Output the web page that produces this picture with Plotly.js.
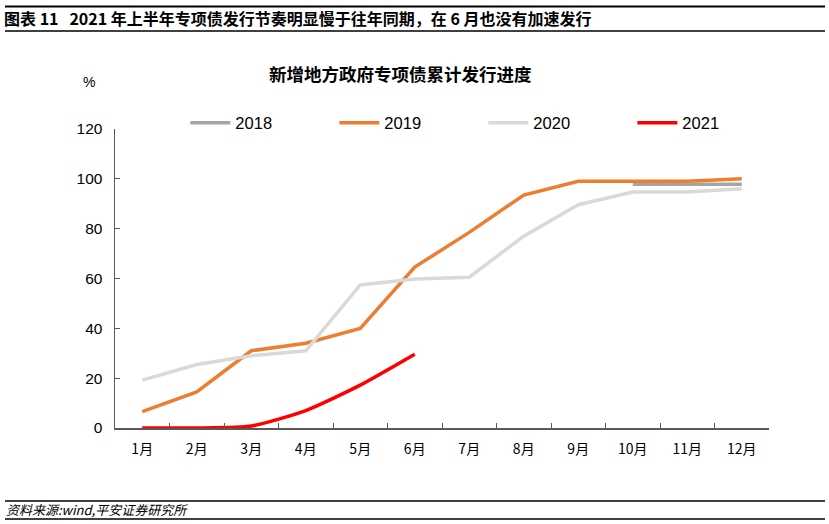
<!DOCTYPE html>
<html>
<head>
<meta charset="utf-8">
<script src="https://cdn.plot.ly/plotly-3.0.1.min.js"></script>
<style>
html,body{margin:0;padding:0;background:#fff;}
#chart{width:829px;height:524px;}
</style>
</head>
<body>
<div id="chart"></div>
<script>
var months = ["1月","2月","3月","4月","5月","6月","7月","8月","9月","10月","11月","12月"];
var s2018 = [null,null,null,null,null,null,null,null,null,97.8,97.8,97.8];
var s2019 = [6.6,14.5,31,34,40,64.6,78.5,93.5,99,99,99,100];
var s2020 = [19.2,25.5,29,31,57.4,59.8,60.5,77,89.6,94.7,94.7,96];
var s2021 = [0,0,0.8,7,17.2,29.6];
var yTicks = [0,20,40,60,80,100,120];

var cjk = '"Noto Sans CJK SC", "Liberation Sans", Arial, sans-serif';
var num = '"Liberation Sans", Arial, sans-serif';

function tr(name, y, color, shape) {
  return {
    type: 'scatter', mode: 'lines', name: name,
    x: months.slice(0, y.length), y: y,
    line: {color: color, width: 3.5, shape: shape || 'linear', smoothing: 0.6},
    connectgaps: false, hoverinfo: 'skip'
  };
}

var data = [
  tr('2018', s2018, '#A5A5A5'),
  tr('2019', s2019, '#ED7D31'),
  tr('2020', s2020, '#D9D9D9'),
  tr('2021', s2021, '#FF0000', 'spline')
];

var layout = {
  width: 829, height: 524,
  margin: {l: 115, r: 60, t: 129, b: 96},
  paper_bgcolor: '#fff', plot_bgcolor: '#fff',
  showlegend: true,
  legend: {
    orientation: 'h', x: 0.1076, y: 1 + (129-123)/299, xanchor: 'left', yanchor: 'middle',
    entrywidth: 94, entrywidthmode: 'pixels',
    font: {family: num, size: 16.5, color: '#000'},
    itemwidth: 40, tracegroupgap: 0
  },
  xaxis: {
    type: 'category', range: [-0.5, 11.5],
    tickson: 'boundaries', ticks: 'inside', ticklen: 5, tickcolor: '#595959',
    showline: true, linecolor: '#595959', linewidth: 1.5,
    showgrid: false, zeroline: false,
    tickfont: {family: cjk, size: 14, color: '#000'}, ticklabelstandoff: 8, fixedrange: true
  },
  yaxis: {
    range: [0, 120], tickvals: yTicks, ticktext: yTicks.map(String),
    ticks: 'inside', ticklen: 5, tickcolor: '#595959',
    showline: true, linecolor: '#595959', linewidth: 1.5,
    showgrid: false, zeroline: false,
    tickfont: {family: num, size: 15.5, color: '#000'}, ticklabelstandoff: 8, fixedrange: true
  },
  annotations: [
    {text: '<b>图表 11   2021 年上半年专项债发行节奏明显慢于往年同期，在 6 月也没有加速发行</b>',
     xref: 'paper', yref: 'paper', x: -113/654, y: 1 + (129-18)/299, xanchor: 'left', yanchor: 'middle',
     showarrow: false, font: {family: cjk, size: 16, color: '#000'}},
    {text: '<b>新增地方政府专项债累计发行进度</b>',
     xref: 'paper', yref: 'paper', x: (400-115)/654, y: 1 + (129-73)/299, xanchor: 'center', yanchor: 'middle',
     showarrow: false, font: {family: cjk, size: 17.5, color: '#000'}},
    {text: '%',
     xref: 'paper', yref: 'paper', x: (89-115)/654, y: 1 + (129-82)/299, xanchor: 'center', yanchor: 'middle',
     showarrow: false, font: {family: num, size: 14, color: '#000'}},
    {text: '<i>资料来源:wind,平安证券研究所</i>',
     xref: 'paper', yref: 'paper', x: -111/654, y: -(509-428)/299, xanchor: 'left', yanchor: 'middle',
     showarrow: false, font: {family: cjk, size: 13, color: '#000'}}
  ],
  shapes: [
    {type: 'line', xref: 'paper', yref: 'paper', x0: -110/654, x1: (825-115)/654, y0: 1 + (129-6.5)/299, y1: 1 + (129-6.5)/299, line: {color: '#000', width: 2}},
    {type: 'line', xref: 'paper', yref: 'paper', x0: -110/654, x1: (825-115)/654, y0: 1 + (129-31)/299, y1: 1 + (129-31)/299, line: {color: '#000', width: 1.5}},
    {type: 'line', xref: 'paper', yref: 'paper', x0: -110/654, x1: (825-115)/654, y0: -(501-428)/299, y1: -(501-428)/299, line: {color: '#000', width: 1.5}},
    {type: 'line', xref: 'paper', yref: 'paper', x0: -110/654, x1: (825-115)/654, y0: -(519-428)/299, y1: -(519-428)/299, line: {color: '#000', width: 1.5}}
  ]
};

Plotly.newPlot('chart', data, layout, {displayModeBar: false, staticPlot: true});
</script>
</body>
</html>
